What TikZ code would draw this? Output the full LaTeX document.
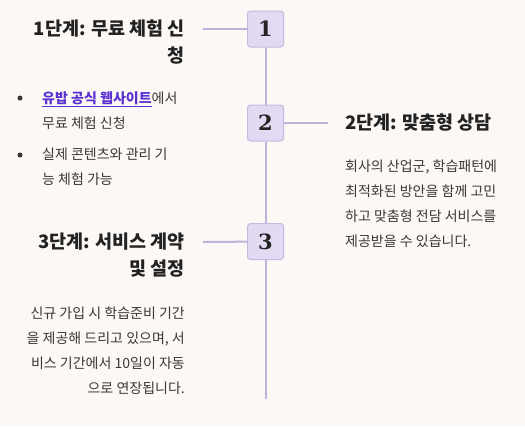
\documentclass[tikz,border=0pt]{standalone}
\usepackage{fontspec}
\setmainfont{Noto Sans CJK KR}
\newfontfamily\numfont{DejaVu Serif}
\usetikzlibrary{positioning}

\definecolor{pagebg}{HTML}{FCF8F5}
\definecolor{boxfill}{HTML}{E2DAF3}
\definecolor{boxline}{HTML}{C6B8E3}
\definecolor{trackline}{HTML}{BFB1DC}
\definecolor{headtext}{HTML}{222222}
\definecolor{bodytext}{HTML}{383838}
\definecolor{linkpurple}{HTML}{5A32D2}
\newcommand{\sitelink}[1]{\textcolor{linkpurple}{\bfseries\underline{#1}}}

\begin{document}
\begin{tikzpicture}[
    x=1pt, y=-1pt,
    stepbox/.style={draw=boxline, line width=1pt, fill=boxfill, rounded corners=3pt, minimum size=36pt, inner sep=0pt, text=headtext, font=\numfont\bfseries\fontsize{21}{21}\selectfont},
    heading/.style={inner sep=0pt, text=headtext, font=\bfseries\fontsize{18.5}{27}\selectfont},
    body/.style={inner sep=0pt, text=bodytext, font=\fontsize{14}{25}\selectfont},
    bulletdot/.style={circle, fill=bodytext, inner sep=0pt, minimum size=5pt},
    track/.style={draw=trackline, line width=2pt}
]
\fill[pagebg] (0,0) rectangle (525,426);
\useasboundingbox (0,0) rectangle (525,426);

% step markers on the track
\node[stepbox] (s1) at (265.5,29) {1};
\node[stepbox] (s2) at (265.5,123) {2};
\node[stepbox] (s3) at (265.5,241.5) {3};
\coordinate (trackend) at (265.5,399);

\draw[track] (s1) -- (s2);
\draw[track] (s2) -- (s3);
\draw[track] (s3) -- (trackend);

% step 1 (left)
\node[heading, anchor=east, align=right] (h1) at (185,42.5) {1단계: 무료 체험 신\\청};
\coordinate (c1) at (203,29);
\draw[track] (c1) -- (s1);
\node[bulletdot] (dot1) at (20,98) {};
\node[body, anchor=west, align=left] (item1) at (42,110.5) {\sitelink{유밥 공식 웹사이트}에서\\무료 체험 신청};
\node[bulletdot] (dot2) at (20,155) {};
\node[body, anchor=west, align=left] (item2) at (42,167) {실제 콘텐츠와 관리 기\\능 체험 가능};

% step 2 (right)
\coordinate (c2) at (328,123);
\draw[track] (s2) -- (c2);
\node[heading, anchor=west] (h2) at (345,123) {2단계: 맞춤형 상담};
\node[body, anchor=west, align=left] (desc2) at (345,203.5) {회사의 산업군, 학습패턴에\\최적화된 방안을 함께 고민\\하고 맞춤형 전담 서비스를\\제공받을 수 있습니다.};

% step 3 (left)
\coordinate (c3) at (203,242);
\draw[track] (c3) -- (s3);
\node[heading, anchor=east, align=right] (h3) at (185,255.5) {3단계: 서비스 계약\\및 설정};
\node[body, anchor=east, align=right] (desc3) at (185,350.5) {신규 가입 시 학습준비 기간\\을 제공해 드리고 있으며, 서\\비스 기간에서 10일이 자동\\으로 연장됩니다.};
\end{tikzpicture}
\end{document}
